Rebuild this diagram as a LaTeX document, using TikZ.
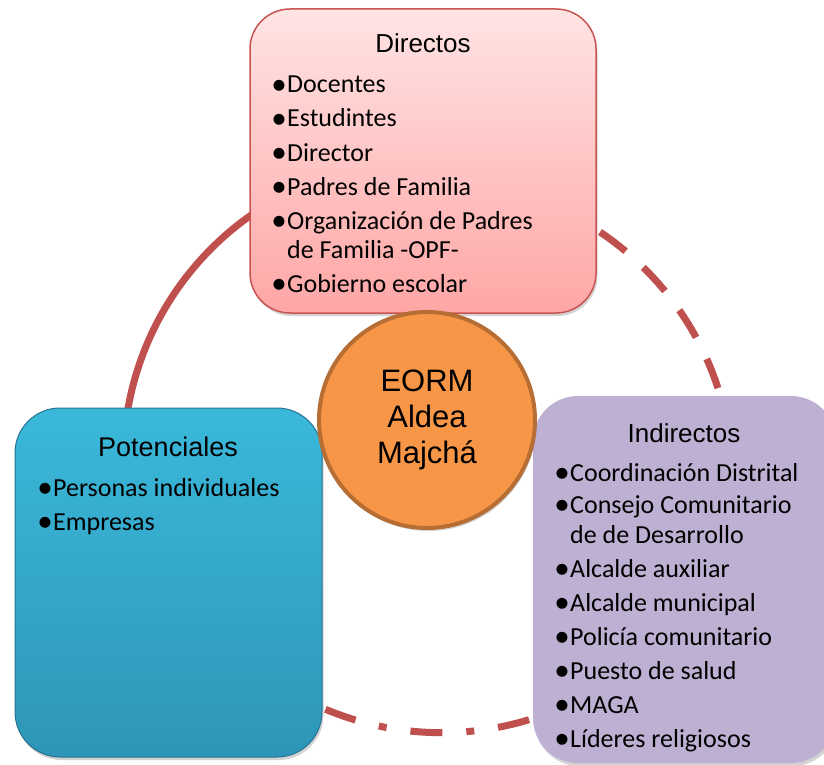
\documentclass[tikz,border=0pt]{standalone}
\usepackage{fontspec}
\setmainfont{Carlito}
\newfontfamily\arialf{Liberation Sans}
\usetikzlibrary{shadows}
\definecolor{arcred}{RGB}{192,80,77}
\definecolor{dirtop}{RGB}{255,228,228}
\definecolor{dirbot}{RGB}{255,166,166}
\definecolor{dirline}{RGB}{200,85,82}
\definecolor{pottop}{RGB}{58,184,218}
\definecolor{potbot}{RGB}{46,150,184}
\definecolor{potline}{RGB}{40,115,145}
\definecolor{indfill}{RGB}{190,176,210}
\definecolor{cirfill}{RGB}{247,150,70}
\definecolor{cirline}{RGB}{182,110,52}
\begin{document}
\begin{tikzpicture}[x=1pt,y=-1pt,
  arcline/.style={draw=arcred, line width=7pt},
  box/.style={rectangle, anchor=north west, inner sep=0pt, outer sep=0pt},
  head/.style={font=\arialf\fontsize{26}{30}\selectfont, anchor=base, inner sep=0pt},
  item/.style={font=\fontsize{26}{30}\selectfont, anchor=base west, inner sep=0pt},
  bul/.style={font=\fontsize{31}{31}\selectfont, anchor=base, inner sep=0pt, yshift=-1.6pt},
  softshadow/.style={drop shadow={opacity=0.35, shadow xshift=1.5pt, shadow yshift=-3pt}}
]
\useasboundingbox (0,0) rectangle (824,765);

% connecting arcs
\coordinate (cs) at (423.4,460.7);
\coordinate (s0) at ([shift={(122:300pt)}]cs);
\draw[arcline] (s0) arc[start angle=122, end angle=172, radius=300pt];

\coordinate (cd) at (432.7,481);
\coordinate (d0) at ([shift={(56.1:300pt)}]cd);
\draw[arcline, dash pattern=on 32pt off 24pt] (d0) arc[start angle=56.1, end angle=18.05, radius=300pt];

\coordinate (cb) at (441.7,432.7);
\coordinate (b0) at ([shift={(-112.8:300pt)}]cb);
\draw[arcline, dash pattern=on 32pt off 24pt on 8pt off 24pt] (b0) arc[start angle=-112.8, end angle=-72.8, radius=300pt];

% boxes
\node[box, softshadow, rounded corners=40pt, minimum width=346pt, minimum height=304pt,
      top color=dirtop, bottom color=dirbot, draw=dirline, line width=1.5pt] (dir) at (250,9) {};
\node[box, softshadow, rounded corners=45pt, minimum width=307pt, minimum height=349pt,
      top color=pottop, bottom color=potbot, draw=potline, line width=1pt] (pot) at (15,408) {};
\node[box, softshadow, rounded corners=45pt, minimum width=303pt, minimum height=367pt,
      fill=indfill] (ind) at (533,396) {};

% centre circle
\node[circle, softshadow, minimum size=216pt, fill=cirfill, draw=cirline, line width=4pt,
      align=center, font=\arialf\fontsize{31}{36.3}\selectfont, inner sep=0pt] (cen) at (427,420)
      {EORM\\Aldea\\Majchá};

% headers
\node[head] (hd) at (423,53) {Directos};
\node[head, font=\arialf\fontsize{27}{30}\selectfont] (hp) at (168,456) {Potenciales};
\node[head] (hi) at (684,442) {Indirectos};

% Directos items
\foreach \t/\y [count=\i] in {Docentes/93, Estudintes/127, Director/161, Padres de Familia/195,
    Organización de Padres/229, Gobierno escolar/292}{
  \node[bul] (db\i) at (279,\y) {•};
  \node[item] (di\i) at (287,\y) {\t};
}
\node[item] (dic) at (287,258) {de Familia -OPF-};

% Potenciales items
\foreach \t/\y [count=\i] in {Personas individuales/496, Empresas/530}{
  \node[bul] (pb\i) at (45,\y) {•};
  \node[item] (pi\i) at (53,\y) {\t};
}

% Indirectos items
\foreach \t/\y [count=\i] in {Coordinación Distrital/481, Consejo Comunitario/513,
    Alcalde auxiliar/577, Alcalde municipal/611, Policía comunitario/645,
    Puesto de salud/679, MAGA/713, Líderes religiosos/747}{
  \node[bul] (ib\i) at (562,\y) {•};
  \node[item] (ii\i) at (570,\y) {\t};
}
\node[item] (iic) at (570,543) {de de Desarrollo};
\end{tikzpicture}
\end{document}
